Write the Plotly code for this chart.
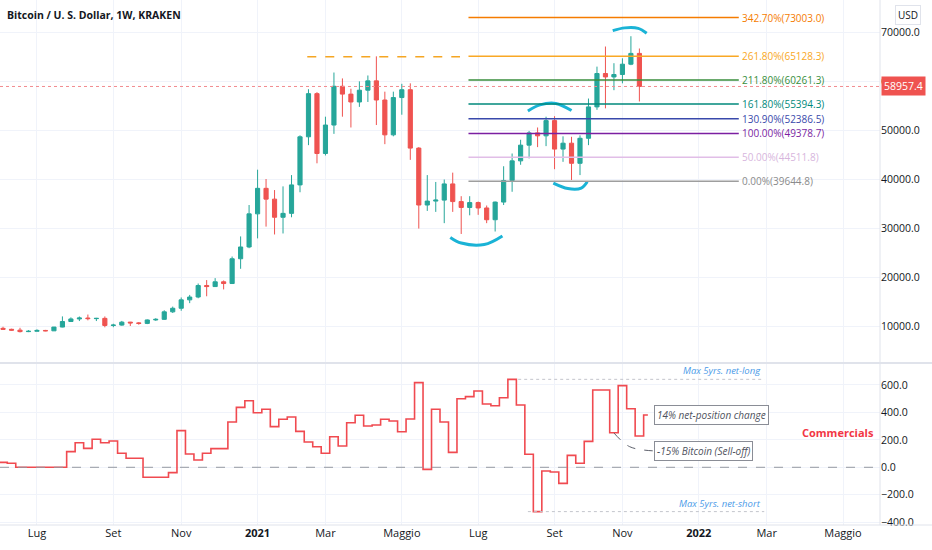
import pandas as pd
import plotly.graph_objects as go

# weekly candles, Kraken BTC/USD
weeks = pd.date_range("2020-06-08", "2021-11-15", freq="7D")
opens = [9670, 9470, 9300, 9000, 9070, 9240, 9160, 9930, 11060, 11580, 11770, 11650, 11700, 10250, 10330,
         10930, 10780, 10670, 11380, 11500, 13030, 13760, 15470, 16050, 18400, 18180, 19150, 18800, 23850,
         26250, 33000, 38200, 36000, 32300, 33100, 38900, 48700, 57500, 45300, 51100, 59000, 57400, 55800,
         58200, 60100, 56200, 49100, 56700, 58300, 46400, 34800, 35600, 35800, 39100, 35500, 34300, 35300,
         34200, 31800, 35400, 39800, 43800, 47000, 49500, 48900, 52000, 46200, 47400, 43300, 48400, 54800,
         61600, 60900, 61400, 63500, 65700]
highs = [9990, 9590, 9780, 9300, 9470, 9350, 9950, 12100, 11900, 12080, 12480, 11800, 12090, 10600, 11180,
         10980, 10950, 11480, 11730, 13350, 14100, 15960, 16480, 18800, 19500, 19900, 19420, 24300, 28400,
         34800, 42000, 40100, 37850, 38600, 40900, 49000, 58400, 57800, 52800, 61800, 60600, 58500, 60000,
         61200, 65100, 57900, 57900, 59500, 59600, 46600, 40900, 39500, 40000, 41400, 36600, 36600, 35500,
         34700, 35500, 42700, 45300, 48100, 49900, 50600, 52800, 52900, 48800, 48700, 49000, 56500, 63000,
         67100, 63700, 64700, 69200, 66700]
lows = [9380, 9200, 8830, 8900, 9050, 9080, 9120, 9880, 11000, 11150, 11300, 11150, 9880, 9900, 10200,
        10150, 10400, 10530, 11200, 11400, 12800, 13250, 14800, 15800, 16200, 18100, 17600, 18700, 21800,
        26000, 28000, 30400, 28800, 29000, 32300, 37400, 47000, 43300, 44900, 49300, 52800, 50600, 54800,
        55800, 51100, 47200, 48800, 53200, 44000, 30000, 33600, 33400, 31100, 33400, 28900, 32700, 32800,
        31100, 29400, 34800, 37500, 43000, 44300, 46600, 46800, 42100, 43600, 39900, 40900, 47000, 54200,
        54500, 58200, 59600, 63300, 55900]
closes = [9470, 9300, 9000, 9070, 9240, 9160, 9930, 11060, 11580, 11770, 11650, 11700, 10250, 10330, 10930,
          10780, 10670, 11380, 11500, 13030, 13760, 15470, 16050, 18400, 18180, 19150, 18800, 23850, 26250,
          33000, 38200, 36000, 32300, 33100, 38900, 48700, 57500, 45300, 51100, 59000, 57400, 55800, 58200,
          60100, 56200, 49100, 56700, 58300, 46400, 34800, 35600, 35800, 39100, 35500, 34300, 35300, 34200,
          31800, 35400, 39800, 43800, 47000, 49500, 48900, 52000, 46200, 47400, 43300, 48400, 54800, 61600,
          60900, 61400, 63500, 65700, 58957.4]
last_price = 58957.4

# fibonacci extension levels
fib_pct = ["342.70%", "261.80%", "211.80%", "161.80%", "130.90%", "100.00%", "50.00%", "0.00%"]
fib_price = [73003.0, 65128.3, 60261.3, 55394.3, 52386.5, 49378.7, 44511.8, 39644.8]
fib_color = ["#f57c00", "#f9a825", "#388e3c", "#00897b", "#3949ab", "#7b1fa2", "#e1bee7", "#9e9e9e"]
fib_text_color = ["#f57c00", "#f9a825", "#388e3c", "#00897b", "#3949ab", "#7b1fa2", "#d7b6dd", "#8a8a8a"]
fib_start, fib_end = "2021-06-27", "2022-02-05"

# COT commercials net position (weekly step line)
cot_weeks = pd.date_range("2020-06-01", "2021-11-22", freq="7D")
cot_net = [36, 36, 29, 0, 0, 0, 0, 0, 0, 114, 179, 138, 204, 179, 192, 102, 66, 66, -73, -73, -73, -39,
           267, 97, 53, 102, 136, 136, 330, 437, 485, 398, 423, 296, 350, 367, 262, 184, 150, 102, 223,
           155, 325, 379, 301, 308, 350, 337, 259, 352, 617, -15, 423, 330, 109, 500, 515, 556, 461, 449,
           507, 641, 454, 95, -323, -27, -34, -117, 87, 29, 189, 563, 563, 252, 595, 427, 228, 381]
max_long, max_short = 641, -323

tick_dates = ["2020-07-06", "2020-09-07", "2020-11-02", "2021-01-04", "2021-03-01", "2021-05-03",
              "2021-07-05", "2021-09-06", "2021-11-01", "2022-01-03", "2022-02-28", "2022-05-02"]
tick_text = ["Lug", "Set", "Nov", "<b>2021</b>", "Mar", "Maggio", "Lug", "Set", "Nov", "<b>2022</b>",
             "Mar", "Maggio"]

# hand drawn cyan marks
arcs = [
    (["2021-06-12", "2021-06-21", "2021-07-10", "2021-07-25"], [28200, 27050, 26750, 28500]),
    (["2021-08-15", "2021-08-25", "2021-09-07", "2021-09-20"], [53950, 55200, 55500, 54050]),
    (["2021-09-05", "2021-09-17", "2021-09-28", "2021-10-03"], [39250, 38150, 38250, 39550]),
    (["2021-10-24", "2021-11-03", "2021-11-14", "2021-11-21"], [70350, 70900, 70800, 69800]),
]

GREEN, RED = "#26a69a", "#ef5350"
FONT = "Open Sans"
GRID = "#f0f3fa"

fig = go.Figure()
fig.add_trace(go.Candlestick(
    x=weeks, open=opens, high=highs, low=lows, close=closes,
    increasing=dict(line=dict(color=GREEN, width=1), fillcolor=GREEN),
    decreasing=dict(line=dict(color=RED, width=1), fillcolor=RED),
    whiskerwidth=0, showlegend=False, hoverinfo="skip",
))

for ax, ay in arcs:
    fig.add_trace(go.Scatter(x=ax, y=ay, mode="lines", line=dict(color="#1ab3d6", width=3, shape="spline"),
                             showlegend=False, hoverinfo="skip"))

fig.add_trace(go.Scatter(x=cot_weeks, y=cot_net, yaxis="y2", mode="lines",
                         line=dict(color="#f04a50", width=1.6, shape="hvh"), showlegend=False, hoverinfo="skip"))

# dashed curve from the sell-off step to the label
fig.add_trace(go.Scatter(x=["2021-10-25", "2021-11-07", "2021-11-26"], y=[250, 150, 120], yaxis="y2",
                         mode="lines", line=dict(color="#5d606b", width=1, dash="dash", shape="spline"),
                         showlegend=False, hoverinfo="skip"))

shapes = []
for p, c in zip(fib_price, fib_color):
    shapes.append(dict(type="line", xref="x", yref="y", x0=fib_start, x1=fib_end, y0=p, y1=p,
                       line=dict(color=c, width=1.5)))
shapes += [
    dict(type="line", xref="x", yref="y", x0="2021-02-14", x1="2021-06-20", y0=65000, y1=65000,
         line=dict(color="#f5a623", width=1.5, dash="dash")),
    dict(type="line", xref="paper", yref="y", x0=0, x1=1, y0=last_price, y1=last_price,
         line=dict(color="#f28b8f", width=1, dash="dot")),
    dict(type="line", xref="paper", yref="y2", x0=0, x1=1, y0=0, y1=0,
         line=dict(color="#9598a1", width=1, dash="dash")),
    dict(type="line", xref="x", yref="y2", x0="2021-08-07", x1="2022-02-26", y0=max_long, y1=max_long,
         line=dict(color="#c3c5cc", width=1, dash="dot")),
    dict(type="line", xref="x", yref="y2", x0="2021-08-15", x1="2022-02-26", y0=max_short, y1=max_short,
         line=dict(color="#c3c5cc", width=1, dash="dot")),
    dict(type="line", xref="paper", yref="paper", x0=1, x1=1, y0=0, y1=1, line=dict(color="#e0e3eb", width=1)),
    dict(type="line", xref="paper", yref="paper", x0=0, x1=1.06, y0=0.3086, y1=0.3086,
         line=dict(color="#e0e3eb", width=2)),
    dict(type="line", xref="paper", yref="paper", x0=0, x1=1.06, y0=0, y1=0, line=dict(color="#e0e3eb", width=1)),
]

annotations = []
for pct, p, c in zip(fib_pct, fib_price, fib_text_color):
    annotations.append(dict(x="2022-02-06", y=p, xref="x", yref="y", xanchor="left", yanchor="middle",
                            text=f"{pct}({p:.1f})", showarrow=False, font=dict(color=c, size=10)))
annotations += [
    dict(x=0, y=1, xref="paper", yref="paper", xanchor="left", yanchor="top", xshift=5, yshift=-6,
         text="<b>Bitcoin / U. S. Dollar, 1W, KRAKEN</b>", showarrow=False,
         font=dict(size=10.5, color="#131722")),
    dict(x=1, y=1, xref="paper", yref="paper", xanchor="left", yanchor="top", xshift=15, yshift=-5,
         text="USD", showarrow=False, font=dict(size=10, color="#131722"),
         bordercolor="#e0e3eb", borderwidth=1, borderpad=2, bgcolor="white"),
    dict(x=1, y=last_price, xref="paper", yref="y", xanchor="left", yanchor="middle", xshift=1,
         text=f"{last_price:.1f}", showarrow=False, font=dict(size=10.5, color="white"),
         bgcolor=RED, borderpad=2),
    dict(x="2022-02-25", y=max_long, xref="x", yref="y2", xanchor="right", yanchor="bottom",
         text="<i>Max 5yrs. net-long</i>", showarrow=False, font=dict(size=9.5, color="#4a9ae8")),
    dict(x="2022-02-25", y=max_short, xref="x", yref="y2", xanchor="right", yanchor="bottom",
         text="<i>Max 5yrs. net-short</i>", showarrow=False, font=dict(size=9.5, color="#4a9ae8")),
    dict(x="2021-11-27", y=381, xref="x", yref="y2", xanchor="left", yanchor="middle",
         text="<i>14% net-position change</i>", showarrow=False, font=dict(size=10, color="#50535e"),
         bordercolor="#8a8d96", borderwidth=1, borderpad=2, bgcolor="white"),
    dict(x="2021-11-27", y=122, xref="x", yref="y2", xanchor="left", yanchor="middle",
         text="<i>-15% Bitcoin (Sell-off)</i>", showarrow=False, font=dict(size=10, color="#50535e"),
         bordercolor="#8a8d96", borderwidth=1, borderpad=2, bgcolor="white"),
    dict(x="2022-04-28", y=250, xref="x", yref="y2", xanchor="center", yanchor="middle",
         text="<b>Commercials</b>", showarrow=False, font=dict(size=11, color="#f23645")),
]

fig.update_layout(
    width=932, height=550,
    margin=dict(l=0, r=52, t=0, b=25),
    paper_bgcolor="white", plot_bgcolor="white",
    font=dict(family=FONT, size=10.5, color="#131722"),
    showlegend=False,
    shapes=shapes, annotations=annotations,
    xaxis=dict(type="date", range=["2020-06-05 12:00", "2022-06-01 12:00"], anchor="y2",
               tickvals=tick_dates, ticktext=tick_text, showgrid=True, gridcolor=GRID,
               zeroline=False, showline=False, ticks="", rangeslider=dict(visible=False),
               tickfont=dict(size=11)),
    yaxis=dict(domain=[0.3105, 1], range=[2810, 76582], side="right", anchor="x",
               tickvals=[10000, 20000, 30000, 40000, 50000, 60000, 70000], tickformat=".1f",
               showgrid=True, gridcolor=GRID, zeroline=False, showline=False, ticks=""),
    yaxis2=dict(domain=[0, 0.3067], range=[-420.6, 752.9], side="right", anchor="x",
                tickvals=[-400, -200, 0, 200, 400, 600], tickformat=".1f",
                showgrid=True, gridcolor=GRID, zeroline=False, showline=False, ticks=""),
)

# drop the browser's default page margin so the chart sits at the window corner
fig.write_html("out.html", config={"displayModeBar": False},
               post_script="document.body.style.margin='0';document.body.style.overflow='hidden';")
